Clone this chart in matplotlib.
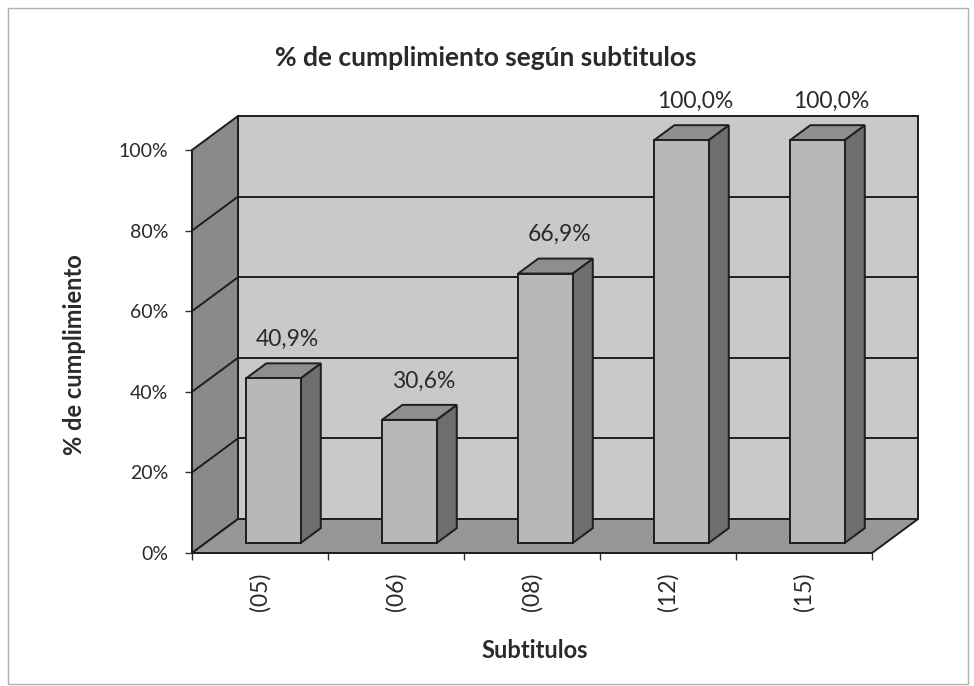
import matplotlib
matplotlib.use("Agg")
import matplotlib.pyplot as plt
from matplotlib.patches import Polygon, Rectangle

categories = ["(05)", "(06)", "(08)", "(12)", "(15)"]
values = [40.9, 30.6, 66.9, 100.0, 100.0]
value_labels = ["40,9%", "30,6%", "66,9%", "100,0%", "100,0%"]
yticks = [0, 20, 40, 60, 80, 100]
ytick_labels = ["0%", "20%", "40%", "60%", "80%", "100%"]

title = "% de cumplimiento según subtitulos"
xlabel = "Subtitulos"
ylabel = "% de cumplimiento"

plt.rcParams['font.family'] = ['Lato', 'DejaVu Sans']

W, H = 974, 686
fig = plt.figure(figsize=(W / 100, H / 100), dpi=100)
fig.patch.set_facecolor("white")

# front plane of the 3D box (pixels)
x0, x1 = 192, 872
y0, y1 = 553, 150
ax = fig.add_axes([x0 / W, 1 - y0 / H, (x1 - x0) / W, (y0 - y1) / H])
n = len(categories)
ax.set_xlim(0, n)
ax.set_ylim(0, 100)
ax.patch.set_visible(False)

px_x = (x1 - x0) / n
px_y = (y0 - y1) / 100.0
DX = 46 / px_x
DY = 34 / px_y

edge = "#1e1e1e"
lw = 1.4
txt = "#2a2a2a"

# walls
back = Polygon([(DX, DY), (n + DX, DY), (n + DX, 100 + DY), (DX, 100 + DY)],
               closed=True, facecolor="#c9c9c9", edgecolor=edge, lw=lw, clip_on=False, zorder=1)
left = Polygon([(0, 0), (DX, DY), (DX, 100 + DY), (0, 100)],
               closed=True, facecolor="#8a8a8a", edgecolor=edge, lw=lw, clip_on=False, zorder=1)
floor = Polygon([(0, 0), (n, 0), (n + DX, DY), (DX, DY)],
                closed=True, facecolor="#979797", edgecolor=edge, lw=lw, clip_on=False, zorder=1)
for p in (back, left, floor):
    ax.add_patch(p)

for g in yticks[1:-1]:
    ax.plot([DX, n + DX], [g + DY, g + DY], color=edge, lw=lw, clip_on=False, zorder=2)
    ax.plot([0, DX], [g, g + DY], color=edge, lw=lw, clip_on=False, zorder=2)

# bars
t0, t1 = 0.29, 0.73
bw = 0.4
for i, v in enumerate(values):
    xl = i + 0.5 - bw / 2
    xr = i + 0.5 + bw / 2
    fx, fy = t0 * DX, t0 * DY
    bx, by = t1 * DX, t1 * DY
    side = Polygon([(xr + fx, fy), (xr + bx, by), (xr + bx, v + by), (xr + fx, v + fy)],
                   closed=True, facecolor="#6e6e6e", edgecolor=edge, lw=lw, clip_on=False, zorder=3)
    top = Polygon([(xl + fx, v + fy), (xr + fx, v + fy), (xr + bx, v + by), (xl + bx, v + by)],
                  closed=True, facecolor="#8e8e8e", edgecolor=edge, lw=lw, clip_on=False, zorder=3)
    front = Rectangle((xl + fx, fy), bw, v, facecolor="#b8b8b8", edgecolor=edge, lw=lw,
                      clip_on=False, zorder=4)
    ax.add_patch(side)
    ax.add_patch(top)
    ax.add_patch(front)
    ax.text(i + 0.5 + 0.6 * DX, v + by + 24 / px_y, value_labels[i], ha="center", va="center",
            fontsize=16.5, color=txt, clip_on=False, zorder=5)

# axes styling
for s in ("top", "right"):
    ax.spines[s].set_visible(False)
for s in ("left", "bottom"):
    ax.spines[s].set_color(edge)
    ax.spines[s].set_linewidth(lw)
    ax.spines[s].set_zorder(6)

ax.set_yticks(yticks)
ax.set_yticklabels(ytick_labels)
ax.tick_params(axis="y", direction="out", length=5, width=1, color="#333333", pad=12,
               labelsize=14, labelcolor=txt)
ax.set_xticks(range(n + 1))
ax.set_xticklabels([""] * (n + 1))
ax.tick_params(axis="x", which="major", direction="out", length=5, width=1, color="#333333")
ax.set_xticks([i + 0.5 for i in range(n)], minor=True)
ax.set_xticklabels(categories, minor=True, rotation=90)
ax.tick_params(axis="x", which="minor", length=0, pad=14, labelsize=16.5, labelcolor=txt)

fig.text(486 / W, 1 - 58 / H, title, ha="center", va="center", fontsize=19,
         fontweight="bold", color=txt)
fig.text(75 / W, 1 - 355 / H, ylabel, ha="center", va="center", rotation=90,
         fontsize=17, fontweight="bold", color=txt)
fig.text(535 / W, 1 - 650 / H, xlabel, ha="center", va="center", fontsize=17,
         fontweight="bold", color=txt)

fig.patches.append(Rectangle((8 / W, 2 / H), 960 / W, 676 / H, transform=fig.transFigure,
                             fill=False, edgecolor="#b0b0b0", lw=1))

fig.savefig("out.png", dpi=100)
